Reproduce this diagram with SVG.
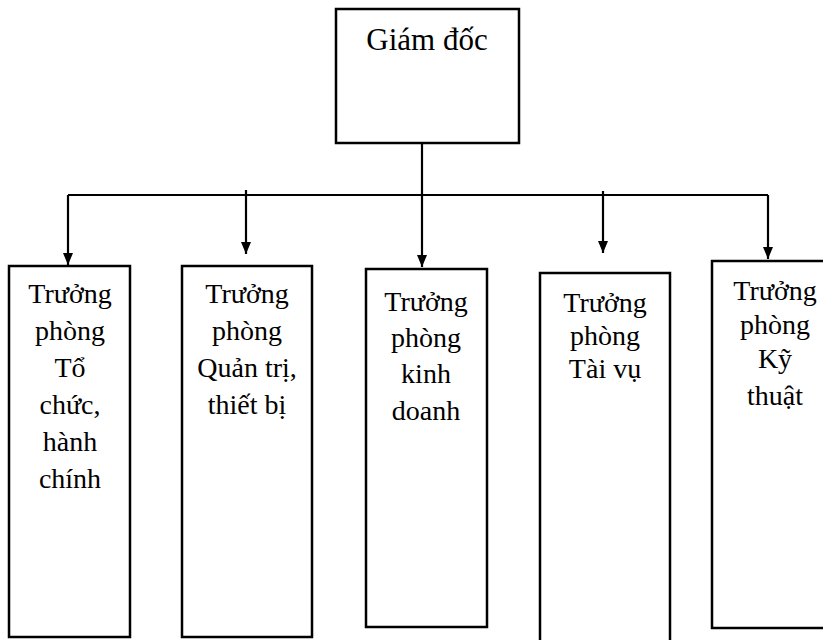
<svg xmlns="http://www.w3.org/2000/svg" width="823" height="640" viewBox="0 0 823 640">
  <style>
    .box { fill: #fff; stroke: #000; stroke-width: 2.5; }
    .conn { fill: none; stroke: #000; stroke-width: 2.2; }
    .lbl { font-family: "Liberation Serif", "Times New Roman", serif; font-size: 28px; fill: #000; text-anchor: middle; }
    .title { font-size: 31px; }
  </style>
  <defs>
    <marker id="arrow" markerUnits="userSpaceOnUse" markerWidth="12" markerHeight="12" viewBox="0 0 12 12" refX="12" refY="6" orient="auto">
      <path d="M0,1 L12,6 L0,11 Z" fill="#000"/>
    </marker>
  </defs>
  <rect width="823" height="640" fill="#fff"/>

  <!-- connectors -->
  <g id="connectors">
    <path class="conn" d="M422,134 V267" marker-end="url(#arrow)"/>
    <path class="conn" d="M68,195 H768"/>
    <path class="conn" d="M68,195 V265" marker-end="url(#arrow)"/>
    <path class="conn" d="M768,195 V259" marker-end="url(#arrow)"/>
    <path class="conn" d="M246,190 V254" marker-end="url(#arrow)"/>
    <path class="conn" d="M603,191 V253" marker-end="url(#arrow)"/>
  </g>

  <!-- director -->
  <g id="giam-doc">
    <rect class="box" x="336" y="9" width="183" height="134"/>
    <text class="lbl title" x="427" y="50">Giám đốc</text>
  </g>

  <!-- department heads -->
  <g id="to-chuc-hanh-chinh">
    <rect class="box" x="9" y="266" width="121" height="371"/>
    <text class="lbl" x="70" y="303">Trưởng</text>
    <text class="lbl" x="70" y="340">phòng</text>
    <text class="lbl" x="70" y="377">Tổ</text>
    <text class="lbl" x="70" y="414">chức,</text>
    <text class="lbl" x="70" y="451">hành</text>
    <text class="lbl" x="70" y="488">chính</text>
  </g>

  <g id="quan-tri-thiet-bi">
    <rect class="box" x="182" y="266" width="130" height="371"/>
    <text class="lbl" x="247" y="303">Trưởng</text>
    <text class="lbl" x="247" y="340">phòng</text>
    <text class="lbl" x="247" y="377">Quản trị,</text>
    <text class="lbl" x="247" y="414">thiết bị</text>
  </g>

  <g id="kinh-doanh">
    <rect class="box" x="366" y="269" width="121" height="358"/>
    <text class="lbl" x="426" y="311">Trưởng</text>
    <text class="lbl" x="426" y="347">phòng</text>
    <text class="lbl" x="426" y="383">kinh</text>
    <text class="lbl" x="426" y="420">doanh</text>
  </g>

  <g id="tai-vu">
    <rect class="box" x="540" y="273" width="130" height="380"/>
    <text class="lbl" x="605" y="312">Trưởng</text>
    <text class="lbl" x="605" y="345">phòng</text>
    <text class="lbl" x="605" y="378">Tài vụ</text>
  </g>

  <g id="ky-thuat">
    <rect class="box" x="712" y="261" width="126" height="367"/>
    <text class="lbl" x="775" y="300">Trưởng</text>
    <text class="lbl" x="775" y="334">phòng</text>
    <text class="lbl" x="775" y="368">Kỹ</text>
    <text class="lbl" x="775" y="405">thuật</text>
  </g>
</svg>
